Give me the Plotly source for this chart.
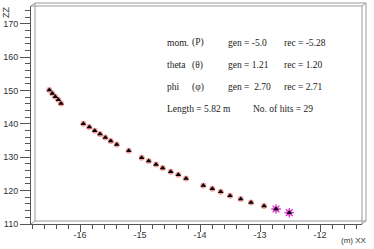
import plotly.graph_objects as go

# ---- data ----
hit_x = [-16.512, -16.462, -16.412, -16.362, -16.317,
         -15.945, -15.845, -15.755, -15.667, -15.578, -15.488, -15.388, -15.188,
         -14.972, -14.855, -14.733, -14.622, -14.488, -14.362, -14.233,
         -13.945, -13.795, -13.655, -13.500, -13.322, -13.150, -12.933,
         -12.733, -12.512]
hit_z = [150.14, 149.13, 148.14, 147.24, 146.13,
         140.05, 139.06, 137.95, 136.96, 135.94, 134.87, 133.85, 131.96,
         129.86, 128.87, 127.86, 126.78, 125.67, 124.77, 123.66,
         121.56, 120.58, 119.68, 118.48, 117.49, 116.47, 115.39,
         114.49, 113.39]
flag_x = [-12.733, -12.512]
flag_z = [114.49, 113.39]

x_ticks = [-16, -15, -14, -13, -12]
y_ticks = [110, 120, 130, 140, 150, 160, 170]

info_rows = [
    ["mom.", "(P)", "gen = -5.0", "rec = -5.28"],
    ["theta", "(θ)", "gen = 1.21", "rec = 1.20"],
    ["phi", "(φ)", "gen =  2.70", "rec = 2.71"],
]
footer = ["Length = 5.82 m", "No. of hits = 29"]

W, H = 374, 249
L, R, T, B = 31, 12, 6, 25
pw, ph = W - L - R, H - T - B

def px(x):
    return (x - L) / pw

def py(y):
    return (H - B - y) / ph

fig = go.Figure()
fig.add_trace(go.Scatter(x=hit_x, y=hit_z, mode="markers",
                         marker=dict(symbol="circle", size=6, color="#f3a0a0"),
                         hoverinfo="skip", showlegend=False))
fig.add_trace(go.Scatter(x=flag_x, y=flag_z, mode="markers",
                         marker=dict(symbol="asterisk-open", size=8, color="#e030e0",
                                     line=dict(color="#e030e0", width=1.3)),
                         showlegend=False))
fig.add_trace(go.Scatter(x=hit_x, y=hit_z, mode="markers",
                         marker=dict(symbol="triangle-up", size=5, color="black"),
                         showlegend=False))

axcol = "#555"
backcol = "#999"
tickfont = dict(family="Liberation Sans, Arial", size=9, color="#333")

fig.update_xaxes(range=[-16.817, -11.3], tickvals=x_ticks,
                 ticktext=[str(v) for v in x_ticks], automargin=False,
                 showgrid=False, zeroline=False, showline=True, linecolor=axcol,
                 linewidth=1, ticks="outside", ticklen=7, tickcolor=axcol,
                 tickfont=tickfont, ticklabelstandoff=-5,
                 minor=dict(dtick=0.2, tick0=-16, ticks="outside", ticklen=4,
                            tickcolor=axcol, showgrid=False))
fig.update_yaxes(range=[110, 175.31], tickvals=y_ticks, automargin=False,
                 showgrid=False, zeroline=False, showline=True, linecolor=axcol,
                 linewidth=1, ticks="outside", ticklen=10, tickcolor=axcol,
                 tickfont=tickfont, ticklabelstandoff=0,
                 minor=dict(dtick=2, tick0=110, ticks="outside", ticklen=5,
                            tickcolor=axcol, showgrid=False))

shapes = []
def line(x0, y0, x1, y1, c):
    shapes.append(dict(type="line", xref="paper", yref="paper",
                       x0=px(x0), y0=py(y0), x1=px(x1), y1=py(y1),
                       line=dict(color=c, width=1)))

# front face top/right
line(31, 6, 362, 6, backcol)
line(362, 6, 362, 224, backcol)
# back face
line(35, 3, 366, 3, backcol)
line(366, 3, 366, 221, backcol)
line(35, 3, 35, 221, backcol)
line(35, 221, 366, 221, backcol)
# corner connectors
line(31, 6, 35, 3, backcol)
line(362, 6, 366, 3, backcol)
line(362, 224, 366, 221, backcol)
line(31, 224, 35, 221, backcol)

ann = []
serif = dict(family="Liberation Serif, Times New Roman", size=9.5, color="#222")
cols = [166, 191, 227, 283]
rows_y = [43, 65, 87]
for r, row in enumerate(info_rows):
    for c, txt in enumerate(row):
        ann.append(dict(text=txt, x=px(cols[c]), y=py(rows_y[r]), xref="paper",
                        yref="paper", xanchor="left", yanchor="middle",
                        showarrow=False, font=serif, borderpad=0))
ann.append(dict(text=footer[0], x=px(166), y=py(108.5), xref="paper", yref="paper",
                xanchor="left", yanchor="middle", showarrow=False, font=serif,
                borderpad=0))
ann.append(dict(text=footer[1], x=px(252), y=py(108.5), xref="paper", yref="paper",
                xanchor="left", yanchor="middle", showarrow=False, font=serif,
                borderpad=0))
ann.append(dict(text="ZZ", x=px(6), y=py(13), xref="paper", yref="paper",
                textangle=-90, xanchor="center", yanchor="middle", showarrow=False,
                font=dict(family="Liberation Sans, Arial", size=9, color="#333")))
ann.append(dict(text="(m) XX", x=px(354), y=py(240), xref="paper", yref="paper",
                xanchor="center", yanchor="middle", showarrow=False,
                font=dict(family="Liberation Sans, Arial", size=8, color="#333")))

fig.update_layout(width=W, height=H, margin=dict(l=L, r=R, t=T, b=B),
                  plot_bgcolor="white", paper_bgcolor="white",
                  shapes=shapes, annotations=ann, showlegend=False)

fig.write_html("out.html", config={"displayModeBar": False},
               post_script="document.body.style.margin='0';document.body.style.padding='0';")
